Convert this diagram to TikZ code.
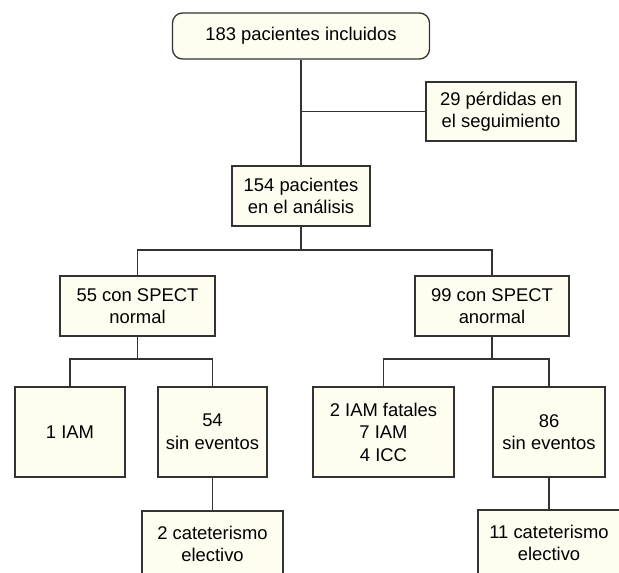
\documentclass[tikz,border=0pt]{standalone}
\usepackage{fontspec}
\setmainfont{Liberation Sans}
\definecolor{boxfill}{HTML}{FEFDF0}
\definecolor{boxline}{HTML}{333333}
\begin{document}
\begin{tikzpicture}[x=1pt,y=-1pt,
  box/.style={draw=boxline, line width=1.3pt, fill=boxfill, align=center, inner sep=0pt,
    font=\fontsize{18.4}{22.5}\selectfont},
  link/.style={draw=boxline, line width=1.3pt}]
\path[use as bounding box, clip] (0,0) rectangle (619,573);
\node[box, rounded corners=10pt, minimum width=257pt, minimum height=46pt] (top) at (301,36) {183 pacientes incluidos};
\node[box, minimum width=150pt, minimum height=59pt] (loss) at (501,111.5) {29 pérdidas en\\el seguimiento};
\node[box, minimum width=138pt, minimum height=60pt] (a154) at (301,196) {154 pacientes\\en el análisis};
\node[box, minimum width=155pt, minimum height=60pt] (n55) at (137.5,306) {55 con SPECT\\normal};
\node[box, minimum width=154pt, minimum height=60pt] (n99) at (492,306) {99 con SPECT\\anormal};
\node[box, minimum width=110pt, minimum height=90pt] (iam1) at (70,432) {1 IAM};
\node[box, minimum width=109pt, minimum height=90pt] (s54) at (212.5,432) {54\\sin eventos};
\node[box, minimum width=141pt, minimum height=90pt] (iam2) at (383.5,432) {2 IAM fatales\\7 IAM\\4 ICC};
\node[box, minimum width=112pt, minimum height=90pt] (s86) at (549,432) {86\\sin eventos};
\node[box, minimum width=141pt, minimum height=66pt] (c2) at (212.5,544) {2 cateterismo\\electivo};
\node[box, minimum width=142pt, minimum height=66pt] (c11) at (549,543) {11 cateterismo\\electivo};
\coordinate (j1) at (301,111.5);
\coordinate (j2) at (301,250);
\coordinate (j3) at (137.5,359);
\coordinate (j4) at (492,359);
\draw[link] (top.south) -- (j1) -- (a154.north);
\draw[link] (j1) -- (loss.west);
\draw[link] (a154.south) -- (j2);
\draw[link] (n55.north) |- (j2) -| (n99.north);
\draw[link] (n55.south) -- (j3);
\draw[link] (iam1.north) |- (j3) -| (s54.north);
\draw[link] (n99.south) -- (j4);
\draw[link] (iam2.north) |- (j4) -| (s86.north);
\draw[link] (s54.south) -- (c2.north);
\draw[link] (s86.south) -- (c11.north);
\end{tikzpicture}
\end{document}
